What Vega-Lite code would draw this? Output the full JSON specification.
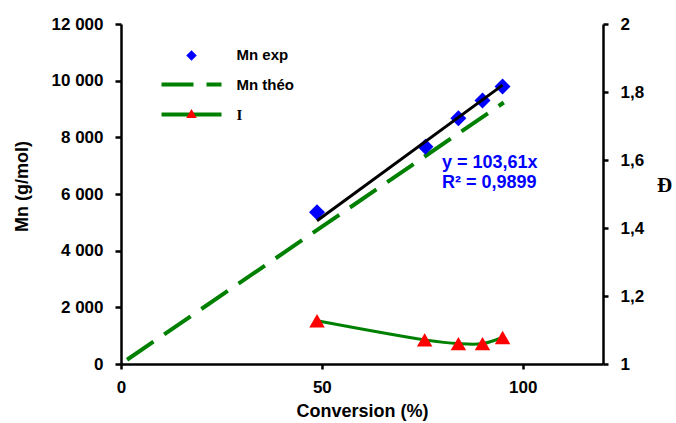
{
  "$schema": "https://vega.github.io/schema/vega-lite/v6.json",
  "width": 482,
  "height": 340,
  "autosize": {"type": "none"},
  "padding": {"left": 121, "top": 24, "right": 73, "bottom": 59},
  "background": "white",
  "config": {
    "view": {"stroke": null},
    "font": "Liberation Sans",
    "axis": {
      "domainColor": "black", "domainWidth": 2.5,
      "tickColor": "black", "tickWidth": 2.5,
      "grid": false,
      "labelFont": "Liberation Sans", "labelFontSize": 17, "labelFontWeight": "bold", "labelColor": "black",
      "labelFlush": false, "labelOverlap": false,
      "titleFont": "Liberation Sans", "titleFontSize": 18, "titleFontWeight": "bold", "titleColor": "black"
    }
  },
  "datasets": {
    "theo": [
      {"conv": 1.5, "mn": 150, "s1": "Mn théo"},
      {"conv": 95.3, "mn": 9230, "s1": "Mn théo"}
    ],
    "exp": [
      {"conv": 48.8, "mn": 5353, "s2": "Mn exp"},
      {"conv": 75.8, "mn": 7672, "s2": "Mn exp"},
      {"conv": 84.0, "mn": 8676, "s2": "Mn exp"},
      {"conv": 90.0, "mn": 9299, "s2": "Mn exp"},
      {"conv": 95.0, "mn": 9794, "s2": "Mn exp"}
    ],
    "trend": [
      {"conv": 48.8, "mn": 5056},
      {"conv": 95.0, "mn": 9843}
    ],
    "eq": [
      {"conv": 79.9, "mn": 7085, "t": "y = 103,61x"},
      {"conv": 79.9, "mn": 6400, "t": "R² = 0,9899"}
    ],
    "disp": [
      {"conv": 48.8, "d": 1.127, "s1": "I", "s2": "I"},
      {"conv": 75.6, "d": 1.071, "s1": "I", "s2": "I"},
      {"conv": 84.0, "d": 1.06, "s1": "I", "s2": "I"},
      {"conv": 90.0, "d": 1.06, "s1": "I", "s2": "I"},
      {"conv": 95.0, "d": 1.078, "s1": "I", "s2": "I"}
    ]
  },
  "layer": [
    {
      "layer": [
        {
          "data": {"name": "theo"},
          "mark": {"type": "line", "strokeWidth": 4},
          "encoding": {
            "x": {"field": "conv", "type": "quantitative", "scale": {"domain": [0, 120], "nice": false},
              "axis": {"values": [0, 50, 100], "title": "Conversion (%)", "tickSize": 5, "labelPadding": 10, "titleY": 47, "titleBaseline": "middle", "labelAngle": 0}},
            "y": {"field": "mn", "type": "quantitative", "scale": {"domain": [0, 12000], "nice": false},
              "axis": {"values": [0, 2000, 4000, 6000, 8000, 10000, 12000], "title": "Mn (g/mol)", "tickSize": 6, "labelPadding": 12,
                "labelExpr": "replace(format(datum.value, ',.0f'), ',', ' ')",
                "titleX": -99, "titleY": 162, "titleAngle": -90, "titleAlign": "center", "titleBaseline": "middle"}},
            "stroke": {"field": "s1", "type": "nominal",
              "scale": {"domain": ["Mn exp", "Mn théo", "I"], "range": ["transparent", "#008000", "#008000"]},
              "legend": {"orient": "none", "legendX": 63, "legendY": 23, "title": null, "direction": "vertical",
                "symbolSize": 100, "symbolStrokeWidth": 4, "symbolType": "M-6,0H6",
                "labelFont": "Liberation Sans", "labelFontSize": 15, "labelFontWeight": "bold", "labelColor": "black",
                "labelOffset": 37.5, "rowPadding": 13, "padding": 0, "zindex": 1,
                "encode": {"labels": {"update": {"font": {"signal": "datum.label == 'I' ? 'Liberation Serif' : 'Liberation Sans'"}}}}}},
            "strokeDash": {"field": "s1", "type": "nominal",
              "scale": {"domain": ["Mn exp", "Mn théo", "I"], "range": [[1, 0], [32, 13], [1, 0]]},
              "legend": {"orient": "none", "legendX": 63, "legendY": 23, "title": null, "direction": "vertical",
                "symbolSize": 100, "symbolStrokeWidth": 4, "symbolType": "M-6,0H6",
                "labelFont": "Liberation Sans", "labelFontSize": 15, "labelFontWeight": "bold", "labelColor": "black",
                "labelOffset": 37.5, "rowPadding": 13, "padding": 0, "zindex": 1,
                "encode": {"labels": {"update": {"font": {"signal": "datum.label == 'I' ? 'Liberation Serif' : 'Liberation Sans'"}}}}}}
          }
        },
        {
          "data": {"name": "exp"},
          "mark": {"type": "point", "filled": true, "size": 256, "opacity": 1, "strokeWidth": 0},
          "encoding": {
            "x": {"field": "conv", "type": "quantitative"},
            "y": {"field": "mn", "type": "quantitative"},
            "fill": {"field": "s2", "type": "nominal",
              "scale": {"domain": ["Mn exp", "-", "I"], "range": ["#0000ff", "transparent", "#ff0000"]},
              "legend": {"orient": "none", "legendX": 63, "legendY": 24, "title": null, "direction": "vertical",
                "symbolSize": 110, "symbolStrokeWidth": 0, "labelFontSize": 15, "labelOpacity": 0, "labelExpr": "''",
                "labelOffset": 12, "rowPadding": 13, "padding": 0, "zindex": 2}},
            "shape": {"field": "s2", "type": "nominal",
              "scale": {"domain": ["Mn exp", "-", "I"], "range": ["diamond", "circle", "triangle-up"]},
              "legend": {"orient": "none", "legendX": 63, "legendY": 24, "title": null, "direction": "vertical",
                "symbolSize": 110, "symbolStrokeWidth": 0, "labelFontSize": 15, "labelOpacity": 0, "labelExpr": "''",
                "labelOffset": 12, "rowPadding": 13, "padding": 0, "zindex": 2}}
          }
        },
        {
          "data": {"name": "trend"},
          "mark": {"type": "line", "color": "black", "strokeWidth": 3},
          "encoding": {
            "x": {"field": "conv", "type": "quantitative"},
            "y": {"field": "mn", "type": "quantitative"}
          }
        },
        {
          "data": {"name": "eq"},
          "mark": {"type": "text", "align": "left", "baseline": "middle", "font": "Liberation Sans", "fontSize": 18, "fontWeight": "bold", "color": "#0000ff"},
          "encoding": {
            "x": {"field": "conv", "type": "quantitative"},
            "y": {"field": "mn", "type": "quantitative"},
            "text": {"field": "t"}
          }
        }
      ]
    },
    {
      "layer": [
        {
          "data": {"name": "disp"},
          "mark": {"type": "line", "strokeWidth": 3, "interpolate": "catmull-rom"},
          "encoding": {
            "x": {"field": "conv", "type": "quantitative"},
            "y": {"field": "d", "type": "quantitative", "scale": {"domain": [1, 2], "nice": false, "zero": false},
              "axis": {"orient": "right", "values": [1, 1.2, 1.4, 1.6, 1.8, 2], "title": "Đ", "tickSize": 5, "labelPadding": 12,
                "labelExpr": "replace(format(datum.value, '.1~f'), '.', ',')",
                "titleAngle": 0, "titleX": 61, "titleY": 161, "titleAlign": "center", "titleBaseline": "middle",
                "titleFont": "Liberation Serif", "titleFontSize": 21}},
            "stroke": {"field": "s1", "type": "nominal"}
          }
        },
        {
          "data": {"name": "disp"},
          "mark": {"type": "point", "filled": true, "size": 240, "opacity": 1, "strokeWidth": 0},
          "encoding": {
            "x": {"field": "conv", "type": "quantitative"},
            "y": {"field": "d", "type": "quantitative"},
            "fill": {"field": "s2", "type": "nominal"},
            "shape": {"field": "s2", "type": "nominal"}
          }
        }
      ]
    }
  ],
  "resolve": {"scale": {"y": "independent"}}
}
